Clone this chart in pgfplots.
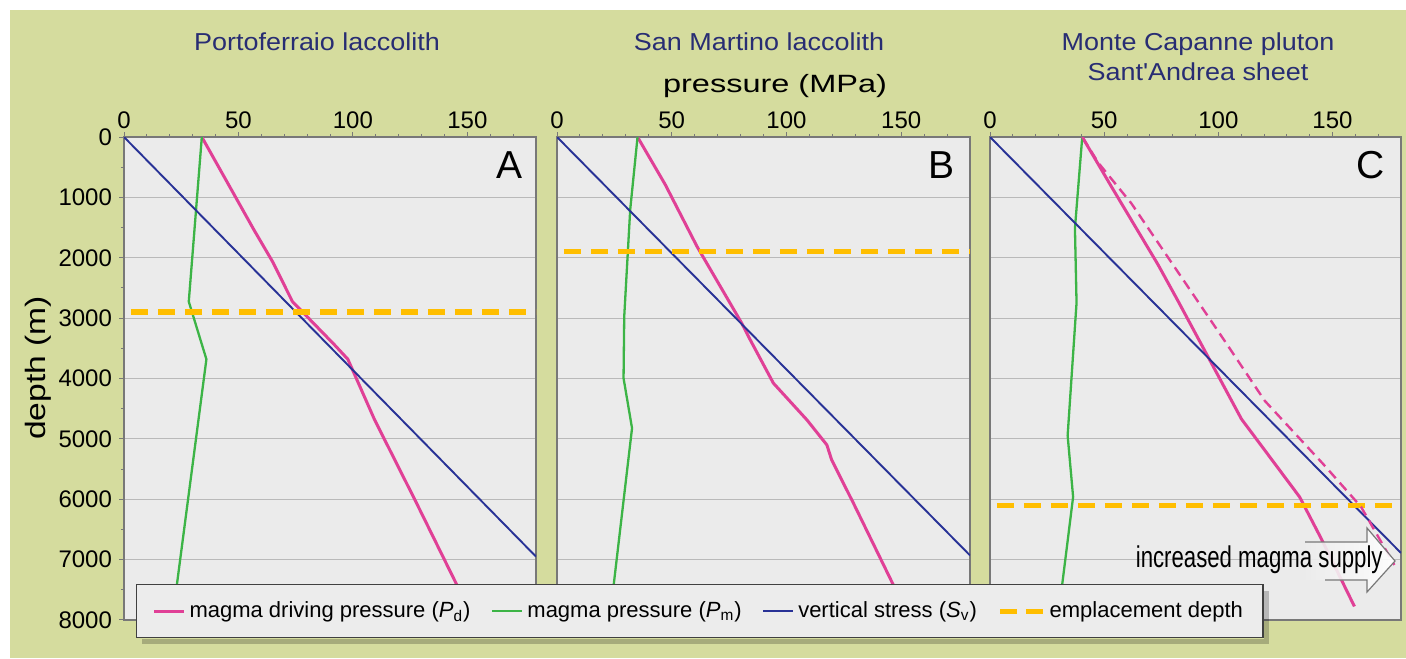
\documentclass[border=0pt]{standalone}
\usepackage{fontspec}
\setmainfont{Liberation Sans}
\newfontfamily\titlefont[FakeStretch=1.1]{Liberation Sans}
\newfontfamily\axlabfont[FakeStretch=1.3]{Liberation Sans}
\newfontfamily\depthfont[FakeStretch=1.2]{Liberation Sans}
\newfontfamily\narrowfont[FakeStretch=0.74]{Liberation Sans}
\usepackage{pgfplots}
\pgfplotsset{compat=1.18}

\definecolor{olivebg}{RGB}{213,220,158}
\definecolor{plotbg}{RGB}{235,235,235}
\definecolor{legbg}{RGB}{236,236,236}
\definecolor{pdcol}{RGB}{224,64,150}
\definecolor{pmcol}{RGB}{60,180,70}
\definecolor{svcol}{RGB}{40,50,150}
\definecolor{empcol}{RGB}{255,190,0}
\definecolor{titlecol}{RGB}{40,45,115}
\definecolor{gridcol}{RGB}{185,185,185}
\definecolor{framecol}{RGB}{120,120,120}

\pgfplotsset{
  panel/.style={
    scale only axis, height=241.5pt,
    xmin=0, xmax=180, ymin=0, ymax=8000, y dir=reverse,
    xtick={0,50,100,150},
    minor xtick={10,20,30,40,60,70,80,90,110,120,130,140,160,170},
    ytick={0,1000,...,8000},
    xtick pos=right, xticklabel pos=right,
    ytick pos=left,
    tick align=outside,
    major tick length=2.5pt, minor tick length=1.6pt,
    ymajorgrids, major grid style={gridcol, line width=0.6pt},
    axis background/.style={fill=plotbg},
    axis line style={framecol, line width=0.6pt},
    every tick/.style={framecol, line width=0.5pt},
    tick label style={font=\fontsize{12}{12}\selectfont},
    xticklabel style={inner sep=1.5pt},
    /pgf/number format/1000 sep={},
    /pgf/number format/assume math mode=true,
    scaled ticks=false,
    legend image code/.code={\draw[##1] (0pt,0pt) -- (15pt,0pt);},
  },
  noy/.style={yticklabels={}, ytick style={draw=none}},
  pd/.style={pdcol, line width=1.5pt},
  pm/.style={pmcol, line width=1.15pt},
  sv/.style={svcol, line width=0.95pt},
  emp/.style={empcol, line width=2.6pt, dash pattern=on 8.75pt off 4.75pt},
  emplegend/.style={legend image code/.code={\draw[##1, dash pattern=on 8.5pt off 4.5pt] (0pt,0pt) -- (21.5pt,0pt);}},
}

\begin{document}
\begin{tikzpicture}
\begin{scope}[x=0.5pt,y=-0.5pt]
  \fill[white] (0,0) rectangle (1406,658);
  \fill[olivebg] (10,10) rectangle (1406,658);
\end{scope}

% Panel A
\begin{axis}[panel, width=206pt, at={(62pt,-68.5pt)}, anchor=north west,
  minor ytick={500,1500,...,7500}]
  \addplot[pd] coordinates {(34,0) (56.8,1540) (64.9,2064) (73.6,2726) (92.0,3444) (97.8,3681) (109.5,4685) (127.1,6010) (145.4,7417) (153,8000)};
  \addplot[pm] coordinates {(34,0) (28.3,2726) (36.0,3681) (23.1,7417) (21.1,8000)};
  \addplot[sv] coordinates {(0,0) (180,6950)};
  \addplot[emp] coordinates {(3,2900) (180,2900)};
\end{axis}

% Panel B
\begin{axis}[panel, noy, width=206.5pt, at={(278.5pt,-68.5pt)}, anchor=north west]
  \addplot[pd] coordinates {(35.1,0) (47.2,790) (61.0,1812) (80.5,3083) (84.2,3359) (94.3,4077) (108.9,4685) (117.6,5099) (119.7,5348) (129.2,6066) (146.6,7420) (154,8000)};
  \addplot[pm] coordinates {(35.1,0) (31.9,1204) (29.3,2972) (29.0,3994) (32.7,4823) (24.7,7420) (22.9,8000)};
  \addplot[sv] coordinates {(0,0) (180,6930)};
  \addplot[emp] coordinates {(3,1900) (180,1900)};
\end{axis}

% Panel C (carries the legend)
\begin{axis}[panel, noy, width=205.5pt, at={(495pt,-68.5pt)}, anchor=north west,
  legend columns=4, legend cell align=left,
  legend style={at={(axis description cs:-2.078,-0.0373)}, anchor=south west,
    draw=black!75, fill=legbg, line width=0.6pt,
    inner xsep=8pt, inner ysep=6.4pt,
    font=\fontsize{11}{13}\selectfont,
    /tikz/every even column/.append style={column sep=8.3pt}}]
  \addplot[pd] coordinates {(40.4,0) (53.2,824) (73.6,2115) (82.4,2720) (98.4,3846) (110.1,4670) (135.6,5962) (145.0,6648) (159.6,7775)};
  \addlegendentry{magma driving pressure (\textit{P}\textsubscript{d})}
  \addplot[pm] coordinates {(40.4,0) (37.2,1511) (37.9,2747) (34.0,4945) (36.4,5962) (31.6,7418) (29.7,8000)};
  \addlegendentry{magma pressure (\textit{P}\textsubscript{m})}
  \addplot[sv] coordinates {(0,0) (180,6890)};
  \addlegendentry{vertical stress (\textit{S}\textsubscript{v})}
  \addplot[emp, emplegend] coordinates {(3,6100) (180,6100)};
  \addlegendentry{emplacement depth}
  \addplot[pdcol, line width=1.2pt, dash pattern=on 5pt off 3pt, forget plot] coordinates {(40.4,0) (47.5,430) (61.9,1099) (102.8,3379) (120.3,4368) (145.8,5412) (162.5,6126) (177.1,7088)};
\end{axis}

\begin{scope}[x=0.5pt,y=-0.5pt]
  % legend shadow
  \fill[black, opacity=0.22] (1263.5,591) rectangle (1269,644);
  \fill[black, opacity=0.22] (142,638.5) rectangle (1263.5,644);
  % titles
  \node[anchor=base, inner sep=0, text=titlecol, font=\titlefont\fontsize{12.25}{14}\selectfont] at (317,51) {Portoferraio laccolith};
  \node[anchor=base, inner sep=0, text=titlecol, font=\titlefont\fontsize{12.25}{14}\selectfont] at (759,51) {San Martino laccolith};
  \node[anchor=base, inner sep=0, text=titlecol, font=\titlefont\fontsize{12.25}{14}\selectfont] at (1198,51) {Monte Capanne pluton};
  \node[anchor=base, inner sep=0, text=titlecol, font=\titlefont\fontsize{12.25}{14}\selectfont] at (1198,81) {Sant'Andrea sheet};
  \node[anchor=base, inner sep=0, font=\axlabfont\fontsize{12.5}{14}\selectfont] at (775,92) {pressure (MPa)};
  \node[anchor=base, inner sep=0, rotate=90, font=\depthfont\fontsize{14}{16}\selectfont] at (45,368) {depth (m)};
  % panel letters
  \node[anchor=base east, inner sep=0, font=\fontsize{19.5}{20}\selectfont] at (523,178) {A};
  \node[anchor=base east, inner sep=0, font=\fontsize{19.5}{20}\selectfont] at (955,178) {B};
  \node[anchor=base east, inner sep=0, font=\fontsize{19.5}{20}\selectfont] at (1385,178) {C};
  % arrow
  \shade[left color=plotbg, right color=white, opacity=0.9] (1298,542) -- (1367,542) -- (1367,528) -- (1395,561) -- (1367,592) -- (1367,580) -- (1298,580) -- cycle;
  \draw[framecol, line width=0.6pt] (1305,542) -- (1367,542) -- (1367,528) -- (1395,561) -- (1367,592) -- (1367,580) -- (1325,580);
  \node[anchor=base east, inner sep=0, font=\narrowfont\fontsize{15}{16}\selectfont] at (1383,567) {increased magma supply};
\end{scope}
\pgfresetboundingbox
\path[use as bounding box] (0,0) rectangle (703pt,-329pt);
\end{tikzpicture}
\end{document}
